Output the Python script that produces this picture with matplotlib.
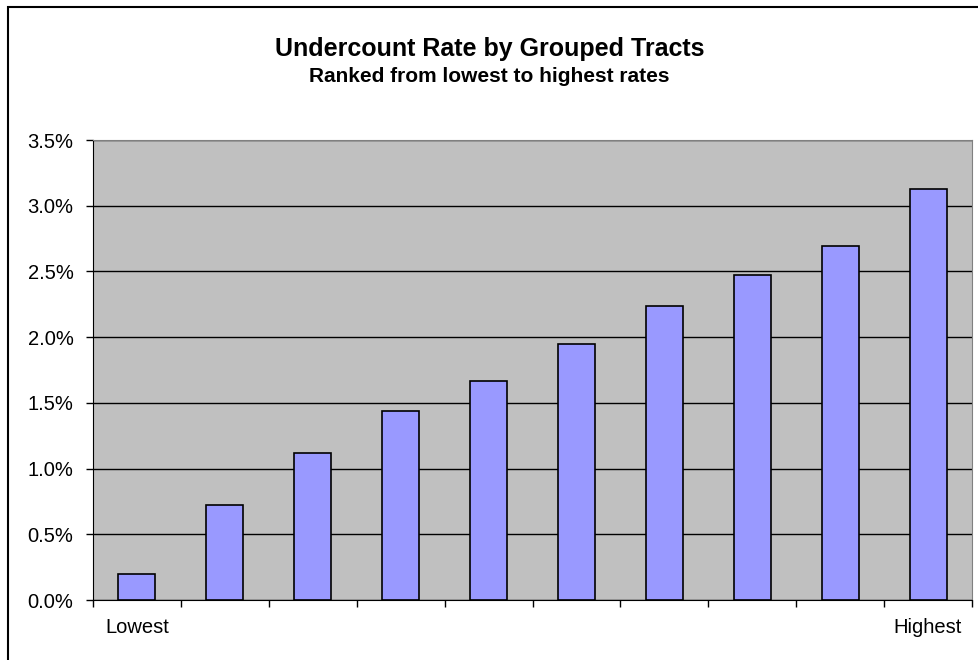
import numpy as np
import matplotlib.pyplot as plt
from matplotlib.patches import Rectangle
from matplotlib.ticker import FuncFormatter, MultipleLocator

# --- data ---
groups = ['Lowest', '', '', '', '', '', '', '', '', 'Highest']
rates = [0.20, 0.72, 1.115, 1.44, 1.67, 1.95, 2.24, 2.47, 2.69, 3.125]

# --- colours ---
COLOR_PLOT = '#C0C0C0'
COLOR_BAR = '#9999FF'

plt.rcParams['font.family'] = ['Liberation Sans', 'DejaVu Sans']

fig = plt.figure(figsize=(9.79, 6.6), dpi=100)
ax = fig.add_axes([93 / 979, 60 / 660, 879 / 979, 460 / 660], facecolor=COLOR_PLOT)

# outer chart frame (runs off the right / bottom edge)
fig.patches.append(Rectangle((8 / 979, -0.05), 1.2, (653 / 660) + 0.05,
                             transform=fig.transFigure, fill=False,
                             edgecolor='black', lw=1.5))

x = np.arange(len(rates))
ax.bar(x, rates, width=0.42, color=COLOR_BAR, edgecolor='black', lw=1.2, zorder=3)

ax.set_xlim(-0.5, len(rates) - 0.5)
ax.set_ylim(0, 3.5)
ax.yaxis.set_major_locator(MultipleLocator(0.5))
ax.yaxis.set_major_formatter(FuncFormatter(lambda v, p: f'{v:.1f}%'))
ax.grid(axis='y', color='black', lw=1.0, zorder=1)

# ticks between categories, labels under the bars
ax.set_xticks(np.arange(len(rates) + 1) - 0.5)
ax.set_xticklabels([])
ax.set_xticks(x, minor=True)
ax.set_xticklabels(groups, minor=True, fontsize=14.5)
ax.tick_params(axis='x', which='minor', length=0, pad=13)
ax.tick_params(axis='x', which='major', length=5, width=1, direction='out')
ax.tick_params(axis='y', length=5, width=1, labelsize=14.5, pad=9)

for side in ['top', 'right']:
    ax.spines[side].set_color('#808080')
ax.spines['left'].set_color('black')
ax.spines['bottom'].set_color('black')

fig.text(0.5, 1 - 49 / 660, 'Undercount Rate by Grouped Tracts', ha='center', va='center',
         fontsize=18, fontweight='bold')
fig.text(0.5, 1 - 76 / 660, 'Ranked from lowest to highest rates', ha='center', va='center',
         fontsize=15, fontweight='bold')

fig.savefig('out.png', dpi=100)
